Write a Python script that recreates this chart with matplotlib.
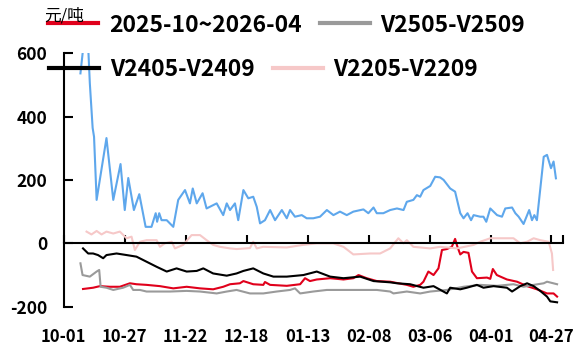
import numpy as np
import pandas as pd
import matplotlib
matplotlib.use("Agg")
import matplotlib.pyplot as plt

plt.rcParams['font.family'] = ['Noto Sans CJK SC', 'DejaVu Sans']
plt.rcParams['axes.unicode_minus'] = False

# === Data (x = days since 10-01) ===
red_x = [8.2, 12.5, 15.4, 19.6, 23.9, 28.2, 31.0, 35.3, 41.0, 46.7, 52.4, 58.1, 63.7, 68.0, 70.9, 75.1, 76.6,
         80.8, 85.1, 85.8, 88.0, 95.1, 100.8, 102.9, 105.0, 107.9, 113.6, 119.3, 123.5, 125.7, 129.2, 133.5,
         139.2, 140.6, 146.3, 149.1, 152.0, 153.4, 155.5, 157.7, 159.8, 161.3, 163.4, 165.5, 166.9, 167.9,
         169.1, 170.5, 172.6, 174.1, 176.2, 180.5, 181.9, 183.0, 184.7, 189.0, 193.3, 197.6, 201.8, 206.1,
         208.9, 210.4]
red_y = [-144, -140, -135, -137, -137, -126, -129, -131, -135, -142, -137, -142, -145, -137, -129, -126, -119,
         -129, -131, -122, -131, -134, -129, -110, -119, -114, -110, -114, -110, -100, -110, -119,
         -121, -123, -131, -137, -131, -121, -89, -100, -79, -21, -18, -11, 14, -11,
         -35, -27, -30, -89, -110, -108, -112, -81, -100, -114, -121, -135, -145, -158,
         -158, -168]

gray_x = [7.1, 8.0, 11.1, 14.0, 15.1, 15.7, 18.2, 21.1, 25.3, 28.2, 29.6, 32.5, 35.3, 39.6, 45.3, 52.4, 58.1,
          65.2, 69.5, 73.7, 79.4, 85.1, 90.8, 96.5, 98.6, 100.8, 106.4, 112.2, 120.7, 126.4, 133.5, 139.2,
          140.6, 146.3, 152.0, 156.3, 163.4, 170.5, 177.6, 184.8, 191.8, 196.1, 200.4, 204.7, 206.1, 210.4]
gray_y = [-63, -100, -105, -89, -84, -137, -140, -147, -140, -131, -147, -147, -152, -152, -152, -150, -152,
          -158, -152, -147, -158, -158, -152, -147, -142, -158, -152, -147, -147, -147, -147, -152,
          -158, -152, -158, -152, -147, -137, -131, -134, -129, -137, -131, -126, -121, -129]

black_x = [8.2, 10.4, 12.5, 14.6, 16.8, 18.2, 22.5, 26.8, 31.0, 35.3, 39.6, 43.9, 48.1, 52.4, 56.7, 59.5,
           63.7, 69.5, 73.7, 76.6, 80.8, 85.1, 89.4, 95.1, 102.2, 107.9, 113.6, 119.3, 126.4, 132.1, 139.2,
           142.1, 147.7, 153.4, 157.7, 163.4, 164.8, 169.1, 171.9, 176.2, 179.0, 183.3, 189.0, 191.2, 194.7,
           197.6, 200.4, 203.2, 206.1, 207.5, 210.4]
black_y = [-16, -32, -32, -37, -47, -37, -32, -37, -42, -58, -74, -89, -79, -89, -87, -79,
           -95, -102, -95, -87, -79, -95, -105, -105, -100, -89, -105, -110, -105, -119, -123,
           -126, -129, -140, -135, -158, -140, -145, -140, -131, -140, -135, -140, -152, -135,
           -126, -135, -150, -168, -183, -186]

pink_x = [9.7, 11.8, 14.0, 16.1, 18.2, 21.1, 23.9, 26.8, 28.9, 30.3, 32.5, 35.3, 39.6, 41.0, 43.1, 46.0,
          47.4, 50.9, 54.5, 58.1, 60.9, 63.7, 66.6, 70.9, 73.7, 79.4, 80.8, 82.3, 85.0, 95.1, 102.0, 107.9,
          114.9, 119.3, 123.5, 130.7, 134.9, 139.2, 142.7, 144.9, 146.3, 149.1, 156.3, 160.5, 167.7, 174.8,
          177.6, 181.9, 186.2, 191.8, 194.7, 197.6, 200.4, 203.2, 206.8, 208.2, 208.7]
pink_y = [37, 28, 39, 28, 37, 31, 37, 16, 21, -21, 5, 10, 10, -11, 0, 5,
          -16, -5, 26, 26, 10, -5, -11, -16, -18, -15, 5, -16, -11, -13, -5, 0,
          0, -11, -35, -32, -32, -16, 16, 0, 10, -11, -16, -11, -16, -5,
          5, 16, 16, 16, 0, 5, 16, 10, 5, -32, -84]

blue_x = [7.1, 9.5, 10.4, 11.1, 12.3, 12.9, 14.0, 18.2, 21.1, 24.2, 26.0, 27.5, 29.9, 32.2, 34.9, 37.4,
          39.2, 39.8, 40.7, 41.7, 43.9, 46.7, 48.8, 51.7, 53.8, 55.0, 56.7, 59.2, 60.9, 65.2, 68.0, 69.5,
          70.9, 73.0, 74.4, 76.6, 78.7, 80.8, 82.3, 83.7, 85.8, 88.0, 90.1, 93.0, 95.1, 96.5, 98.6, 101.5,
          103.6, 106.4, 109.3, 112.2, 115.0, 117.8, 120.7, 123.5, 127.8, 129.9, 132.1, 133.5, 136.3, 139.2,
          142.1, 144.9, 146.3, 149.1, 150.6, 152.0, 153.4, 156.3, 158.4, 160.5, 162.0, 164.8, 166.9, 169.1,
          170.5, 172.2, 173.7, 174.8, 177.6, 179.0, 180.2, 181.9, 184.8, 186.9, 188.3, 191.2, 192.6, 194.0,
          196.1, 198.5, 199.7, 200.7, 201.8, 204.7, 206.1, 207.8, 208.9, 209.9]
blue_y = [536, 700, 620, 505, 364, 336, 137, 332, 137, 250, 105, 206, 105, 155, 52, 52,
          95, 68, 95, 73, 73, 52, 137, 168, 126, 173, 126, 158, 110, 126, 89, 126,
          105, 126, 73, 168, 142, 147, 115, 63, 73, 105, 73, 105, 79, 105, 84, 89,
          79, 79, 84, 105, 89, 100, 89, 100, 107, 95, 113, 95, 95, 105,
          110, 105, 131, 137, 152, 147, 168, 181, 210, 208, 200, 173, 163, 95,
          79, 95, 73, 89, 84, 84, 68, 110, 89, 84, 110, 113, 95, 84,
          61, 105, 73, 89, 73, 273, 279, 237, 258, 205]

labels = ["2025-10~2026-04", "V2505-V2509", "V2405-V2409", "V2205-V2209"]
tick_labels = ["10-01", "10-27", "11-22", "12-18", "01-13", "02-08", "03-06", "04-01", "04-27"]
tick_dates = pd.to_datetime(["2025-10-01", "2025-10-27", "2025-11-22", "2025-12-18", "2026-01-13",
                             "2026-02-08", "2026-03-06", "2026-04-01", "2026-04-27"])
tick_pos = list((tick_dates - tick_dates[0]).days)

# === Plot ===
fig = plt.figure(figsize=(5.8, 3.47), dpi=100)
ax = fig.add_axes([0.110, 0.116, 0.861, 0.731])

lr, = ax.plot(red_x, red_y, color="#e0001b", lw=1.5)
lg, = ax.plot(gray_x, gray_y, color="#9a9a9a", lw=1.5)
lb, = ax.plot(black_x, black_y, color="black", lw=1.5)
lp, = ax.plot(pink_x, pink_y, color="#f6c8c8", lw=1.5)
ax.plot(blue_x, blue_y, color="#5ea7ec", lw=1.5)

ax.set_xlim(0, 213)
ax.set_ylim(-200, 600)
ax.set_yticks([-200, 0, 200, 400, 600])

for s in ["top", "right"]:
    ax.spines[s].set_visible(False)
ax.spines["bottom"].set_position(("data", 0))
for s in ["left", "bottom"]:
    ax.spines[s].set_linewidth(1.5)

ax.set_xticks(tick_pos + [213])
ax.tick_params(axis="x", direction="in", length=6, width=1.5, labelbottom=False)
ax.tick_params(axis="y", direction="in", length=6.5, width=1.5, pad=12, labelsize=12.5)
for t in ax.get_yticklabels():
    t.set_fontweight("bold")

sec = ax.secondary_xaxis("bottom")
sec.spines["bottom"].set_visible(False)
sec.set_xticks(tick_pos)
sec.set_xticklabels(tick_labels, fontsize=12, fontweight="bold")
sec.tick_params(length=0, pad=15)

fig.text(64 / 580, 1 - 16 / 347, "元/吨", ha="center", va="center", fontsize=12)

leg_kw = dict(frameon=False, ncol=2, loc="center left", borderpad=0, borderaxespad=0,
              handlelength=2.2, handletextpad=0.45, columnspacing=0.8,
              prop={"size": 16.5, "weight": "bold"}, bbox_transform=fig.transFigure)
leg1 = ax.legend([lr, lg], labels[:2], bbox_to_anchor=(48 / 580, 1 - 25 / 347), **leg_kw)
ax.add_artist(leg1)
leg2 = ax.legend([lb, lp], labels[2:], bbox_to_anchor=(49 / 580, 1 - 70 / 347), **leg_kw)
for lg_ in (leg1, leg2):
    for h in lg_.get_lines():
        h.set_linewidth(3)

plt.savefig("out.png", dpi=100)
